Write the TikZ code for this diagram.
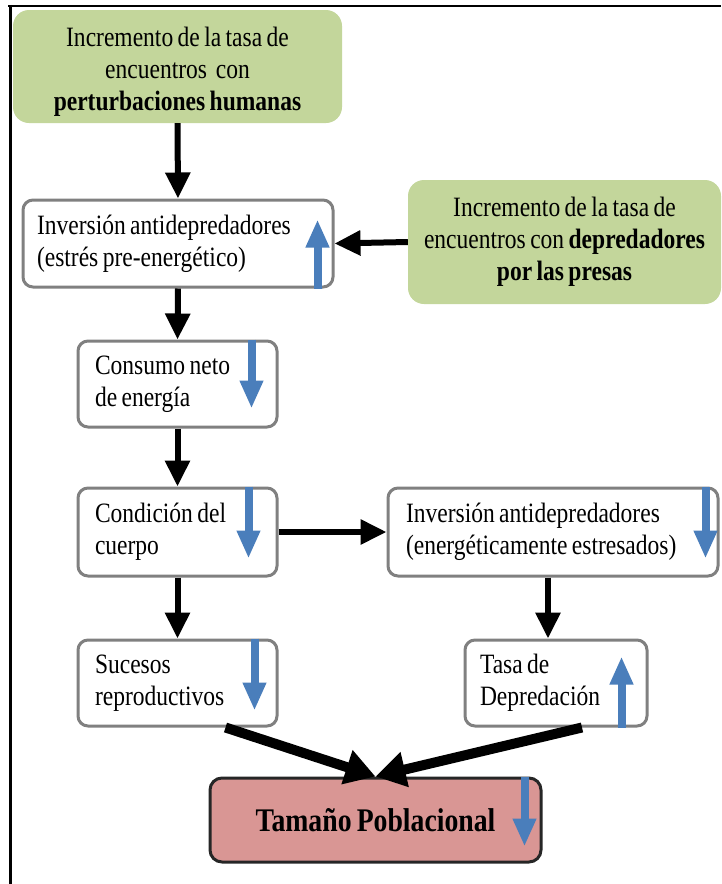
\documentclass[tikz,border=0pt]{standalone}
\usepackage{fontspec}
\setmainfont{Liberation Serif}[FakeStretch=0.84, WordSpace=0.75]
\usetikzlibrary{arrows.meta}
\definecolor{gfill}{HTML}{C3D69B}
\definecolor{bgray}{HTML}{808080}
\definecolor{pfill}{HTML}{D99694}
\definecolor{barrow}{HTML}{4A7EBB}
\begin{document}
\begin{tikzpicture}[x=1pt,y=-1pt,
  font=\fontsize{28}{32}\selectfont,
  greenbox/.style={fill=gfill, rounded corners=16pt, align=flush center, inner sep=0pt},
  graybox/.style={draw=bgray, fill=white, line width=3pt, rounded corners=10pt, align=flush left, inner ysep=0pt},
  pinkbox/.style={draw=black!85, fill=pfill, line width=3pt, rounded corners=12pt, align=center, inner sep=0pt},
  blk/.style={line width=6pt, -{Triangle[width=24pt,length=26pt]}},
  blkthick/.style={line width=10pt, -{Triangle[width=34pt,length=30pt]}},
  bluearr/.style={draw=barrow, line width=8pt, -{Triangle[width=22pt,length=28pt]}}
]
\useasboundingbox (0,0) rectangle (721,884);
% frame
\draw[line width=2.5pt] (8,6) -- (721,6);
\draw[line width=3pt] (10,4.75) -- (10,884);

% nodes
\node[greenbox, minimum width=329pt, minimum height=113pt, text width=329pt] (g1) at (177.5,66.5)
  {\rule{0pt}{30pt}Incremento de la tasa de\\encuentros\ \ con\\\textbf{perturbaciones humanas}};
\node[greenbox, minimum width=313pt, minimum height=124pt, text width=313pt] (g2) at (564.5,242)
  {Incremento de la tasa de\\encuentros con \textbf{depredadores}\\\textbf{por las presas}};
\node[graybox, minimum width=310pt, minimum height=87pt, inner xsep=14pt, text width=282pt] (b2) at (178,243.5)
  {Inversión antidepredadores\\(estrés pre-energético)};
\node[graybox, minimum width=199pt, minimum height=86pt, inner xsep=17pt, text width=165pt] (b4) at (177.5,384)
  {Consumo neto\\de energía};
\node[graybox, minimum width=199pt, minimum height=88pt, inner xsep=17pt, text width=165pt] (b5) at (177.5,532)
  {Condición del\\cuerpo};
\node[graybox, minimum width=330pt, minimum height=88pt, inner xsep=18pt, text width=294pt] (b6) at (553,532)
  {Inversión antidepredadores\\(energéticamente estresados)};
\node[graybox, minimum width=199pt, minimum height=86pt, inner xsep=17pt, text width=165pt] (b7) at (177.5,683)
  {Sucesos\\reproductivos};
\node[graybox, minimum width=182pt, minimum height=86pt, inner xsep=15pt, text width=152pt] (b8) at (556,683)
  {Tasa de\\Depredación};
\node[pinkbox, minimum width=331pt, minimum height=84pt, font=\fontsize{33}{36}\selectfont\bfseries] (b9) at (375.5,820)
  {Tamaño Poblacional};

% black connectors
\draw[blk] (g1.south) -- (b2.north);
\draw[blk] (g2.west) -- (b2.east);
\draw[blk] (b2.south) -- (b4.north);
\draw[blk] (b4.south) -- (b5.north);
\draw[blk] (b5.east) -- (b6.west);
\draw[blk] (b5.south) -- (b7.north);
\coordinate (t8) at ([xshift=-8pt]b8.north);
\draw[blk] (b6.south -| t8) -- (t8);
\draw[blkthick] ([xshift=48pt]b7.south) -- (b9.north);
\draw[blkthick] ([xshift=26pt]b8.south) -- (b9.north);

% blue trend arrows
\draw[bluearr] ([xshift=-17pt]b2.south east) -- ++(0,-69);
\draw[bluearr] ([xshift=-27pt]b4.north east) -- ++(0,69);
\draw[bluearr] ([xshift=-30pt]b5.north east) -- ++(0,72);
\draw[bluearr] ([xshift=-14pt]b6.north east) -- ++(0,72);
\draw[bluearr] ([xshift=-24pt]b7.north east) -- ++(0,72);
\draw[bluearr] ([xshift=-27pt]b8.south east) -- ++(0,-71);
\draw[bluearr] ([xshift=-18pt]b9.north east) -- ++(0,70);
\end{tikzpicture}
\end{document}
